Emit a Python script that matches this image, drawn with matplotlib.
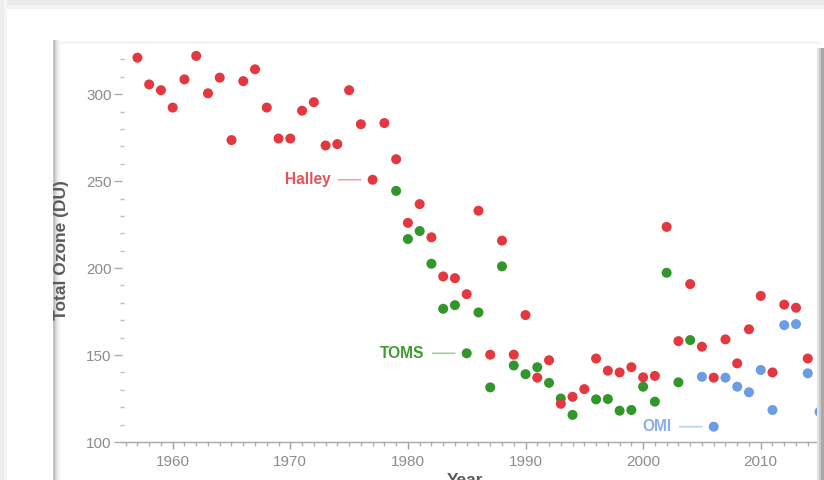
import matplotlib
matplotlib.use("Agg")
import matplotlib.pyplot as plt
from matplotlib.patches import Rectangle
from matplotlib.ticker import MultipleLocator

plt.rcParams['font.family'] = ['Liberation Sans', 'DejaVu Sans']

# ---------------- data ----------------
halley_years = list(range(1957, 2015))
halley_values = [321, 305.6, 302.3, 292.3, 308.5, 322, 300.5, 309.5, 273.6, 307.5,
                 314.3, 292.3, 274.5, 274.5, 290.5, 295.4, 270.5, 271.3, 302.3, 282.7,
                 250.8, 283.4, 262.6, 226, 236.8, 217.7, 195.2, 194.2, 185, 233,
                 150.2, 215.8, 150.2, 173, 137, 147, 122, 126, 130.4, 148,
                 141, 140, 143, 137.2, 138, 223.7, 158, 190.8, 154.8, 137,
                 159, 145.2, 164.8, 184, 140, 179, 177.2, 148]

toms_years = [1979, 1980, 1981, 1982, 1983, 1984, 1985, 1986, 1987, 1988, 1989, 1990,
              1991, 1992, 1993, 1994, 1996, 1997, 1998, 1999, 2000, 2001, 2002, 2003, 2004]
toms_values = [244.4, 216.7, 221.3, 202.5, 176.6, 178.7, 151, 174.5, 131.4, 201, 144, 139,
               143, 134, 125, 115.6, 124.5, 124.7, 118, 118.4, 131.8, 123.2, 197.3, 134.3, 158.6]

omi_years = [2005, 2006, 2007, 2008, 2009, 2010, 2011, 2012, 2013, 2014, 2015]
omi_values = [137.5, 108.8, 137, 131.8, 128.6, 141.4, 118.4, 167.2, 167.8, 139.5, 117.4]

series_names = ["Halley", "TOMS", "OMI"]
label_years = [1977, 1985, 2006]

y_major_ticks = [100, 150, 200, 250, 300]
x_major_ticks = [1960, 1970, 1980, 1990, 2000, 2010]

RED, GREEN, BLUE = "#e3383f", "#33962b", "#6b9de6"
RED_T, GREEN_T, BLUE_T = "#e8505a", "#3d9b2f", "#86aef0"
RED_D, GREEN_D, BLUE_D = "#f2a3a8", "#a5d09c", "#b9d0f5"

W, H = 824, 480
fig = plt.figure(figsize=(W / 100, H / 100), dpi=100)
fig.patch.set_facecolor("white")


def rect(x0, y0, x1, y1, color, z=1):
    fig.add_artist(Rectangle((x0 / W, 1 - y1 / H), (x1 - x0) / W, (y1 - y0) / H,
                             transform=fig.transFigure, facecolor=color,
                             edgecolor="none", zorder=z))


# outer grey frame
rect(0, 0, W, 5, "#ebebeb")
rect(0, 5, W, 9, "#f2f2f2")
rect(0, 0, 4, H, "#ededed")
rect(4, 0, 7, H, "#f5f5f5")
# inner panel top edge (faint)
rect(55, 41, 820, 44, "#f4f4f4")
# inner panel left shadow
for i, c in enumerate(["#c6c6c6", "#bdbdbd", "#d2d2d2", "#e0e0e0", "#eaeaea",
                       "#f1f1f1", "#f6f6f6", "#fafafa"]):
    rect(53 + i, 40, 54 + i, H, c)
# inner panel right edge
rect(817, 48, 819, H, "#e4e4e4")
rect(819, 48, 821, H, "#c8c8c8")
rect(821, 48, 824, H, "#a9a9a9")

# ---------------- axes ----------------
ax_left, ax_right, ax_bottom, ax_top = 122, 824, 442, 42
ax = fig.add_axes([ax_left / W, (H - ax_bottom) / H,
                   (ax_right - ax_left) / W, (ax_bottom - ax_top) / H])
ax.set_facecolor("none")

ax.scatter(toms_years, toms_values, s=52, color=GREEN, edgecolors="none", zorder=3)
ax.scatter(halley_years, halley_values, s=52, color=RED, edgecolors="none", zorder=4)
ax.scatter(omi_years, omi_values, s=52, color=BLUE, edgecolors="none", zorder=5)

ax.set_xlim(1955.69, 2015.38)
ax.set_ylim(100, 330)

for s in ["top", "right", "left"]:
    ax.spines[s].set_visible(False)
ax.spines["bottom"].set_color("#a8a8a8")
ax.spines["bottom"].set_linewidth(1.0)

ax.set_yticks(y_major_ticks)
ax.yaxis.set_minor_locator(MultipleLocator(10))
ax.set_xticks(x_major_ticks)
ax.xaxis.set_minor_locator(MultipleLocator(1))

ax.tick_params(axis="y", which="major", direction="out", length=6, width=1,
               color="#aaaaaa", labelcolor="#8c8c8c", labelsize=11, pad=1.5)
ax.tick_params(axis="y", which="minor", direction="inout", length=3.5, width=1,
               color="#bdbdbd")
ax.tick_params(axis="x", which="major", direction="out", length=5, width=1,
               color="#a0a0a0", labelcolor="#8c8c8c", labelsize=11, pad=4.5)
ax.tick_params(axis="x", which="minor", direction="out", length=2.8, width=1,
               color="#b0b0b0")

# y label
fig.text(62 / W, 1 - 250 / H, "Total Ozone (DU)", rotation=90, ha="center", va="center",
         fontsize=12.5, fontweight="bold", color="#5a5a5a")
# x label (cut off at the bottom, as in the reference)
fig.text(465 / W, 1 - 473 / H, "Year", ha="center", va="top",
         fontsize=12.5, fontweight="bold", color="#5a5a5a")

# series labels with short leader lines
all_series = {"Halley": (halley_years, halley_values),
              "TOMS": (toms_years, toms_values),
              "OMI": (omi_years, omi_values)}
tcolors = [RED_T, GREEN_T, BLUE_T]
dcolors = [RED_D, GREEN_D, BLUE_D]
for name, yr, tc, dc in zip(series_names, label_years, tcolors, dcolors):
    ys, vs = all_series[name]
    v = vs[ys.index(yr)]
    ax.annotate(name, xy=(yr, v), xycoords="data", xytext=(-42, 0),
                textcoords="offset pixels", ha="right", va="center",
                fontsize=11.2, fontweight="bold", color=tc, zorder=6)
    ax.annotate("", xy=(yr, v), xycoords="data", xytext=(-34, 0),
                textcoords="offset pixels",
                arrowprops=dict(arrowstyle="-", color=dc, lw=1.2,
                                shrinkA=0, shrinkB=8.5), zorder=6)

fig.savefig("out.png", dpi=100, facecolor="white")
